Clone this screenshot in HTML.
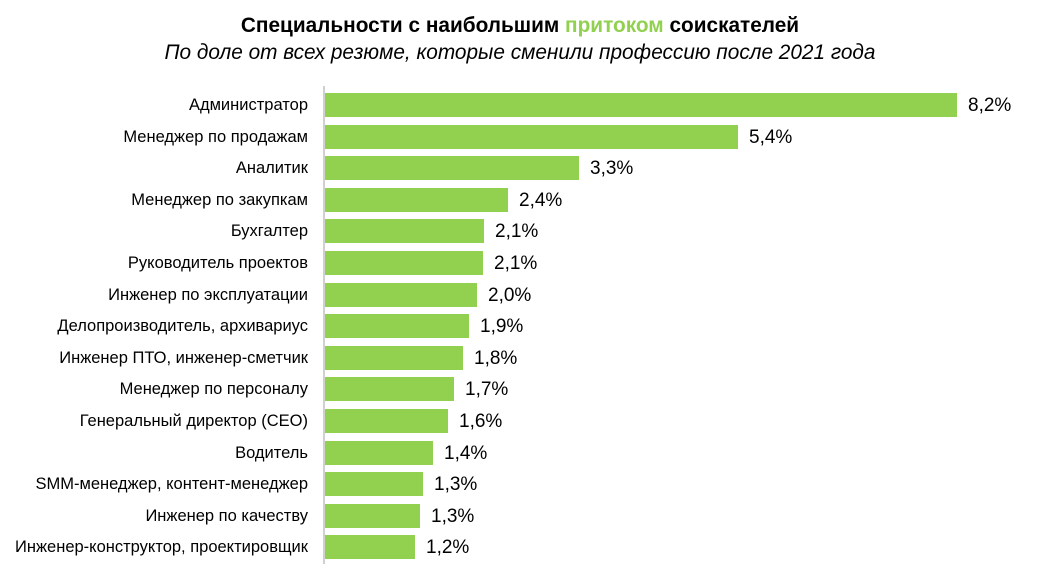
<!DOCTYPE html>
<html><head><meta charset="utf-8"><style>
body{margin:0;width:1040px;height:582px;background:#fff;font-family:"Liberation Sans",Arial,sans-serif;position:relative;overflow:hidden}
.t{position:absolute;left:0;width:1040px;text-align:center;font-size:20.8px;color:#000}
.ax{position:absolute;left:323px;top:86px;width:2px;height:478px;background:#d0d0d0}
.l{position:absolute;text-align:right;font-size:16.5px;line-height:24px;white-space:nowrap;color:#000}
.b{position:absolute;left:325px;height:24px;background:#92d050}
.v{position:absolute;font-size:19px;line-height:24px;color:#000}
</style></head><body>
<div class="t" style="top:14px;font-weight:bold">Специальности с наибольшим <span style="color:#92d050">притоком</span> соискателей</div>
<div class="t" style="top:41px;font-style:italic">По доле от всех резюме, которые сменили профессию после 2021 года</div>
<div class="ax"></div>
<div id="c"></div>
<script>
var d=[["Администратор",957,"8,2%"],["Менеджер  по продажам",738,"5,4%"],["Аналитик",579,"3,3%"],["Менеджер  по закупкам",508,"2,4%"],["Бухгалтер",484,"2,1%"],["Руководитель проектов",483,"2,1%"],["Инженер по эксплуатации",477,"2,0%"],["Делопроизводитель, архивариус",469,"1,9%"],["Инженер ПТО,  инженер-сметчик",463,"1,8%"],["Менеджер  по персоналу",454,"1,7%"],["Генеральный директор (CEO)",448,"1,6%"],["Водитель",433,"1,4%"],["SMM-менеджер,  контент-менеджер",423,"1,3%"],["Инженер по качеству",420,"1,3%"],["Инженер-конструктор, проектировщик",415,"1,2%"]];
var h="";d.forEach(function(r,i){var y=Math.round(93+i*31.6);
h+='<div class="l" style="top:'+y+'px;left:0;width:308px">'+r[0]+'</div><div class="b" style="top:'+y+'px;width:'+(r[1]-325)+'px"></div><div class="v" style="top:'+(y+1)+'px;left:'+(r[1]+11)+'px">'+r[2]+'</div>';});
document.getElementById("c").innerHTML=h;
</script>
</body></html>
